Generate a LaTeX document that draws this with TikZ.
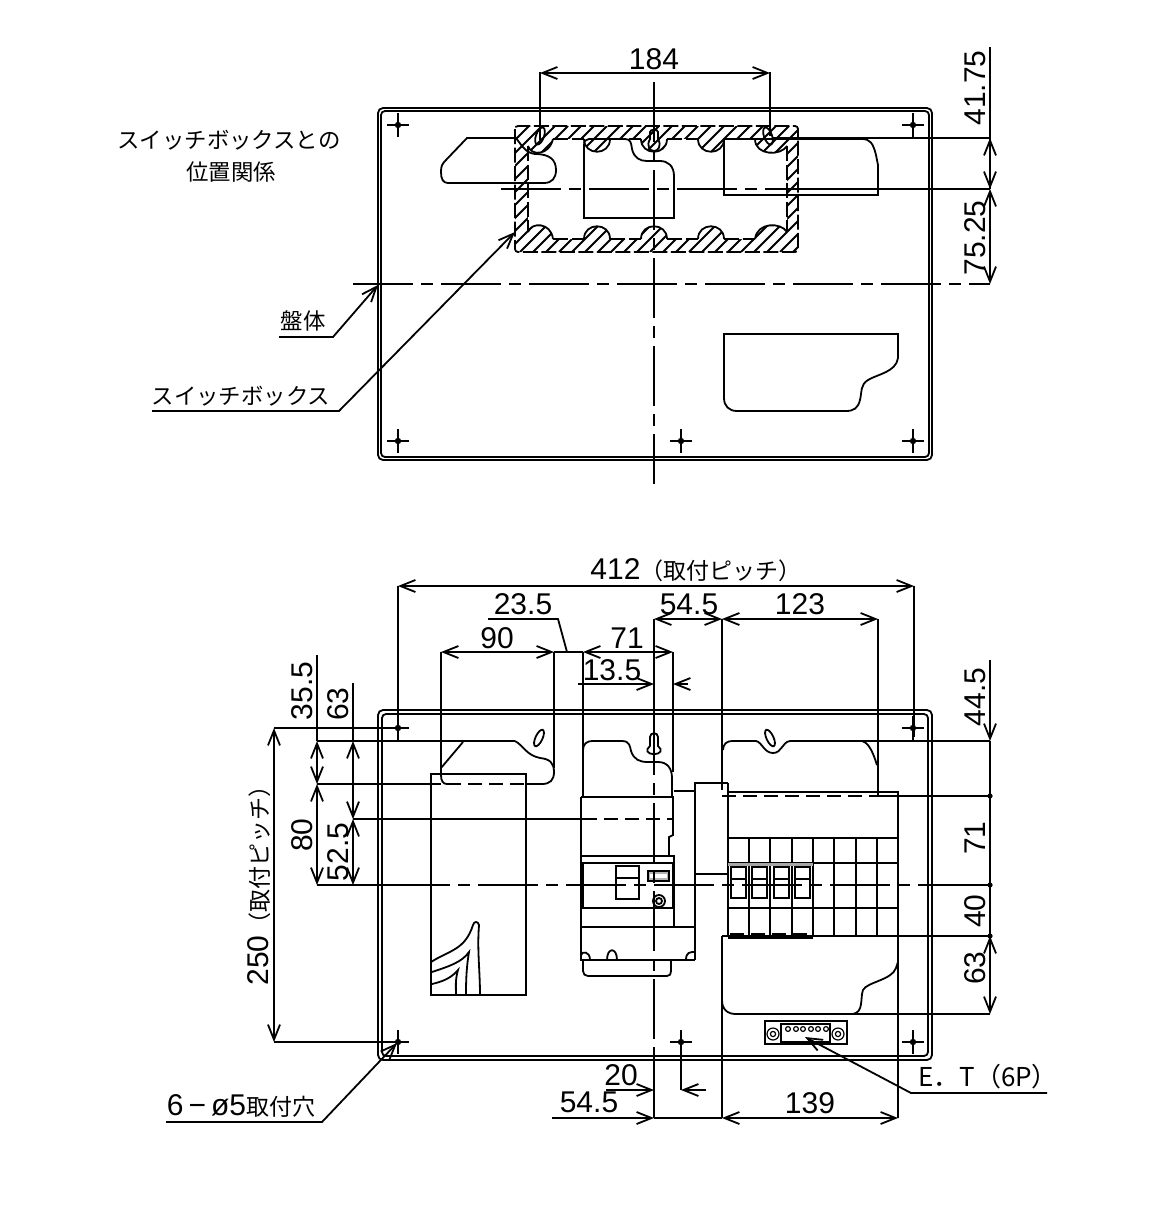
\documentclass[tikz,border=0pt]{standalone}
\usepackage{fontspec}
\setmainfont{Liberation Sans}
\newfontfamily\jpfont{Noto Sans CJK JP}
\usetikzlibrary{arrows.meta}
\tikzset{
  >={Straight Barb[length=15pt,width=12pt]},
  num/.style={inner sep=0pt,font=\fontsize{30}{32}\selectfont},
  vnum/.style={num,rotate=90},
  jp/.style={inner sep=0pt,font=\jpfont\fontsize{22.4}{24}\selectfont},
  cline/.style={dash pattern=on 60pt off 8pt on 12pt off 8pt},
  hid/.style={dash pattern=on 14pt off 7pt},
  boxline/.style={dash pattern=on 15pt off 3.5pt},
  heavy/.style={line width=2.8pt}
}
\newcommand{\jpn}[1]{{\jpfont\fontsize{23}{24}\selectfont #1}}
\begin{document}
\begin{tikzpicture}[x=1pt,y=-1pt,line width=1.8pt]
  \useasboundingbox (0,0) rectangle (1150,1208);
  % top view
  \draw[rounded corners=5pt] (378,108) rectangle (932,460);
  \draw[rounded corners=4pt] (381,111) rectangle (929,457);
  \begin{scope}
    \clip[rounded corners=3pt] (515,126) rectangle (798,252);
    \foreach \hx in {390,403,...,800}
      \draw (\hx,252) -- ++(126,-126);
  \end{scope}
  \draw[fill=white,draw=none] (528,146) .. controls (531,156) and (549,156) .. (553,139)
    \foreach \bx in {584,641,698}{ -- (\bx,139) .. controls (\bx,156) and (\bx+26,156) .. (\bx+26,139) }
    -- (755,139) .. controls (755,156) and (781,156) .. (787,146)
    -- (787,232) .. controls (781,222) and (757,222) .. (755,239)
    \foreach \bx in {724,667,610}{ -- (\bx,239) .. controls (\bx,222) and (\bx-26,222) .. (\bx-26,239) }
    -- (553,239) .. controls (551,222) and (531,222) .. (528,232) -- cycle;
  \draw[boxline,rounded corners=3pt] (515,126) rectangle (798,252);
  \draw[boxline] (528,146) -- (528,232) (787,146) -- (787,232);
  \foreach \bx in {553,610,667,724}
    \draw[boxline] (\bx,139) -- (\bx+31,139) (\bx,239) -- (\bx+31,239);
  \foreach \bx in {584,641,698}{
    \draw (\bx,139) .. controls (\bx,156) and (\bx+26,156) .. (\bx+26,139);
    \draw (\bx,239) .. controls (\bx,222) and (\bx+26,222) .. (\bx+26,239);
  }
  \draw (528,146) .. controls (531,156) and (549,156) .. (553,139);
  \draw (755,139) .. controls (755,156) and (781,156) .. (787,146);
  \draw (787,232) .. controls (781,222) and (757,222) .. (755,239);
  \draw (553,239) .. controls (551,222) and (531,222) .. (528,232);
  % outlines seen through the box
  \draw (467,138) -- (516,138) .. controls (522,146) and (526,153) .. (535,154)
    .. controls (550,154) and (556,160) .. (556,170) .. controls (556,178) and (552,183) .. (544,183)
    -- (448,183) .. controls (443,183) and (441,179) .. (441,172) .. controls (441,166) and (442,164) .. (446,160) -- cycle;
  \draw (584,218) -- (584,145) .. controls (584,141) and (586,139) .. (589,139) -- (625,139)
    .. controls (631,139) and (631,143) .. (632,149) .. controls (634,158) and (640,161) .. (647,161)
    -- (660,161) .. controls (668,161) and (674,166) .. (674,176) -- (674,218) -- cycle;
  \draw (724,195) -- (724,139) -- (862,139) .. controls (870,139) and (873,143) .. (876,155)
    -- (878,165) -- (878,195) -- cycle;
  \draw (724,334) -- (898,334) -- (898,358) .. controls (896,372) and (878,374) .. (868,380)
    .. controls (860,385) and (862,392) .. (860,400) .. controls (858,408) and (854,411) .. (846,411)
    -- (737,411) .. controls (729,411) and (724,406) .. (724,398) -- cycle;
  \draw[rotate around={-20:(540,136)}] (540,136) ellipse (4pt and 9pt);
  \draw[rotate around={20:(768,136)}] (768,136) ellipse (4pt and 9pt);
  \draw (650,139) -- (650,132) .. controls (650,129) and (658,129) .. (658,132) -- (658,139)
    .. controls (662,146) and (658,151) .. (654,151) .. controls (650,151) and (646,146) .. (650,139);
  \foreach \hx/\hy in {398/125,913/125,398/441,681/441,913/441,398/728,913/728,398/1042,681/1042,913/1042}{
    \draw (\hx-11,\hy) -- (\hx+11,\hy) (\hx,\hy-12) -- (\hx,\hy+12);
    \fill (\hx,\hy) circle (3.2pt);
  }
  \draw[cline] (654,82) -- (654,484);
  \draw[cline] (353,284) -- (975,284);
  \draw (975,284) -- (990,284);
  \draw[cline] (501,189) -- (790,189);
  \draw (790,189) -- (990,189);
  \draw (772,138) -- (990,138);
  \draw (540,72) -- (540,140) (770,72) -- (770,136);
  \draw[<->] (540,73) -- (770,73);
  \draw (990,47) -- (990,138);
  \draw[->] (990,189) -- (990,138);
  \draw[->] (990,138) -- (990,189);
  \draw[<->] (990,189) -- (990,284);
  \node[num] (dim184) at (654,59) {184};
  \node[vnum] (dim4175) at (975,88) {41.75};
  \node[vnum] (dim7525) at (975,238) {75.25};
  \node[jp] (lblpos) at (229,140) {スイッチボックスとの};
  \node[jp] (lblpos2) at (231,172) {位置関係};
  \node[jp] (lblban) at (303,321) {盤体};
  \draw[->] (279,337) -- (333,337) -- (378,285);
  \node[jp] (lblsw) at (241,396) {スイッチボックス};
  \draw[->] (152,411) -- (339,411) -- (515,232);
  % front view
  \draw[rounded corners=5pt] (378,710) rectangle (932,1060);
  \draw[rounded corners=4pt] (382,714) rectangle (928,1056);
  % left unit
  \draw (431,774) rectangle (526,995);
  \draw (431,962) .. controls (450,950) and (465,950) .. (473,925) .. controls (474,921) and (478,921) .. (479,925)
    .. controls (477,950) and (480,970) .. (480,995);
  \draw (432,972) .. controls (450,966) and (462,962) .. (469,952) .. controls (466,970) and (466,985) .. (466,995);
  \draw (432,984) .. controls (445,981) and (452,977) .. (458,970) .. controls (455,980) and (456,988) .. (456,995);
  \draw (441,652) -- (441,773) (554,652) -- (554,768);
  \draw (317,741) -- (515,741);
  \draw (441,768) -- (463,742) (515,741) .. controls (524,746) and (526,755) .. (540,758)
    .. controls (550,759) and (554,763) .. (554,772) .. controls (554,780) and (550,784) .. (542,784) -- (526,784);
  \draw (441,768) -- (441,775) .. controls (441,781) and (443,784) .. (447,784);
  \draw (317,784) -- (441,784);
  \draw[hid] (447,784) -- (526,784);
  \draw[rotate around={-25:(539,738)}] (539,738) ellipse (3.5pt and 9pt);
  % breaker
  \draw (583,652) -- (583,797) (673,652) -- (673,772);
  \draw (583,750) .. controls (583,744) and (587,741) .. (592,741) -- (622,741)
    .. controls (630,741) and (630,747) .. (631,751) .. controls (634,760) and (640,762) .. (648,762)
    -- (658,762) .. controls (667,762) and (672,768) .. (672,778) -- (672,797);
  \draw (650,746) -- (650,737) .. controls (650,732) and (658,732) .. (658,737) -- (658,746)
    .. controls (663,750) and (661,754) .. (654,754) .. controls (647,754) and (645,750) .. (650,746);
  \draw (353,819) -- (583,819);
  \draw[hid] (583,819) -- (673,819);
  \draw[heavy] (581,797) -- (581,960);
  \draw (581,797) -- (673,797) -- (673,835) -- (669,837) -- (669,856);
  \draw (581,856) -- (674,856) -- (674,927);
  \draw (583,863) rectangle (673,908);
  \draw (616,866) rectangle (639,899) (616,878) -- (639,878);
  \draw[fill=gray!60] (648,871) rectangle (669,881);
  \draw[fill=white,draw=none] (650,874) rectangle (667,878);
  \draw (659,901) circle (6pt) (659,901) circle (3pt);
  \draw (581,927) -- (695,927);
  \draw (580,960) -- (695,960);
  \draw (581,960) -- (581,955) .. controls (582,951) and (590,951) .. (590,960);
  \draw (607,960) .. controls (607,947) and (617,947) .. (617,960);
  \draw (686,960) .. controls (686,952) and (690,952) .. (695,952);
  \draw (583,960) -- (583,971) .. controls (583,974) and (585,976) .. (588,976) -- (667,976)
    .. controls (670,976) and (671,974) .. (671,971) -- (671,960);
  \draw (695,960) -- (695,783) -- (728,783) (674,791) -- (695,791) (695,874) -- (728,874);
  % right unit
  \draw (722,619) -- (722,790) (878,619) -- (878,796);
  \draw (723,750) .. controls (723,744) and (727,741) .. (732,741) -- (756,741)
    .. controls (762,742) and (764,753) .. (773,753) .. controls (782,753) and (782,742) .. (790,741)
    -- (862,741) .. controls (870,743) and (874,756) .. (877,765);
  \draw (790,741) -- (990,741);
  \draw[rotate around={25:(770,738)}] (770,738) ellipse (3.5pt and 9pt);
  \draw (728,783) -- (728,936) (728,792) -- (898,792) -- (898,1118);
  \draw[hid] (722,796) -- (878,796);
  \draw (878,796) -- (990,796);
  \fill (990,796) circle (2.6pt) (990,885) circle (2.6pt) (990,936) circle (2.6pt);
  \draw (728,838) -- (898,838) (728,863) -- (898,863) (728,908) -- (898,908);
  \foreach \gx in {728,749,770,792,813,834,856,877}
    \draw[line width=2.4pt] (\gx,838) -- (\gx,936);
  \draw[heavy] (728,938) -- (813,938);
  \draw[fill=gray!70,draw=none] (728,863) rectangle (813,866);
  \foreach \gx in {731,752,774,795}{
    \draw (\gx,867) rectangle (\gx+15,898) (\gx,879) -- (\gx+15,879);
  }
  \draw[hid,line width=1.4pt] (730,934) -- (813,934);
  \draw (722,936) -- (990,936);
  \draw (722,936) -- (722,1000) .. controls (722,1009) and (727,1014) .. (736,1014) -- (853,1014)
    .. controls (864,1012) and (860,998) .. (863,990) .. controls (867,982) and (892,980) .. (896,968) -- (898,962);
  \draw (853,1014) -- (990,1014) (722,1000) -- (722,1118);
  % E.T terminal
  \draw[heavy] (765,1021) rectangle (847,1044);
  \draw[fill=white,line width=1.8pt] (781,1024) rectangle (830,1042);
  \foreach \tx in {788,796,803,811,818,826}
    \draw[line width=1.2pt] (\tx,1029) circle (2.4pt);
  \foreach \tx in {773,838}{
    \draw[line width=1.2pt] (\tx,1034) circle (6pt) (\tx,1034) circle (2.6pt);
  }
  \draw[cline] (654,715) -- (654,1060);
  \draw (654,619) -- (654,715) (654,1060) -- (654,1118);
  \draw (317,885) -- (390,885);
  \draw[cline] (390,885) -- (950,885);
  \draw (950,885) -- (990,885);
  % dimensions, top
  \draw (398,586) -- (398,737) (914,586) -- (914,737);
  \draw[<->] (398,586) -- (914,586);
  \node[num] (dim412) at (696,570) {412\jpn{（取付ピッチ）}};
  \draw[<->] (441,652) -- (554,652);
  \draw (554,652) -- (583,652);
  \draw[<->] (583,652) -- (673,652);
  \node[num] (dim90) at (497,638) {90};
  \node[num] (dim71) at (627,638) {71};
  \node[num] (dim235) at (523,604) {23.5};
  \draw (488,619) -- (558,619) -- (567,652);
  \draw[<->] (654,619) -- (722,619);
  \draw[<->] (722,619) -- (878,619);
  \node[num] (dim545a) at (689,604) {54.5};
  \node[num] (dim123) at (800,604) {123};
  \node[num] (dim135) at (612,670) {13.5};
  \draw[->] (578,684) -- (654,684);
  \draw[->] (688,684) -- (673,684);
  % dimensions, left
  \draw (274,728) -- (398,728) (274,1042) -- (398,1042);
  \draw[<->] (274,728) -- (274,1042);
  \draw (317,655) -- (317,741) (353,683) -- (353,741);
  \draw[<->] (317,741) -- (317,784);
  \draw[<->] (317,784) -- (317,885);
  \draw[<->] (353,741) -- (353,819);
  \draw[<->] (353,819) -- (353,885);
  \node[vnum] (dim355) at (302,691) {35.5};
  \node[vnum] (dim63a) at (338,704) {63};
  \node[vnum] (dim80) at (302,835) {80};
  \node[vnum] (dim525) at (338,852) {52.5};
  \node[vnum] (dim250) at (259,880) {250\jpn{（取付ピッチ）}};
  % dimensions, right
  \draw[->] (990,660) -- (990,741);
  \draw (990,741) -- (990,936);
  \draw[<->] (990,936) -- (990,1014);
  \node[vnum] (dim445) at (975,697) {44.5};
  \node[vnum] (dim71b) at (975,838) {71};
  \node[vnum] (dim40) at (975,911) {40};
  \node[vnum] (dim63b) at (975,968) {63};
  % dimensions, bottom
  \draw (681,1042) -- (681,1090);
  \draw[->] (606,1090) -- (654,1090);
  \draw[->] (706,1090) -- (681,1090);
  \node[num] (dim20) at (621,1075) {20};
  \draw[->] (552,1118) -- (654,1118);
  \draw (654,1118) -- (722,1118);
  \draw[<->] (722,1118) -- (898,1118);
  \node[num] (dim545b) at (589,1102) {54.5};
  \node[num] (dim139) at (810,1103) {139};
  \node[jp,font=\jpfont\fontsize{26}{28}\selectfont] (lblet) at (988,1077) {E．T（6P）};
  \draw[->] (1047,1093) -- (911,1093) -- (805,1037);
  \node[num] (lblhole) at (241,1106) {6\,−\,ø5\jpn{取付穴}};
  \draw[->] (166,1122) -- (322,1122) -- (397,1043);
\end{tikzpicture}
\end{document}
